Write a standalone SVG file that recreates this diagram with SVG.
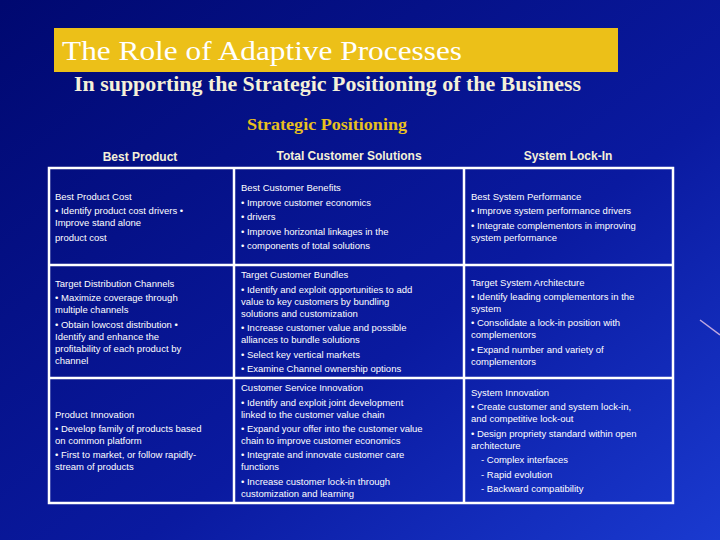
<svg xmlns="http://www.w3.org/2000/svg" width="720" height="540" viewBox="0 0 720 540">
<defs>
<linearGradient id="bg" x1="0" y1="0" x2="1" y2="1">
<stop offset="0" stop-color="#000870"/>
<stop offset="0.6" stop-color="#0a1aa0"/>
<stop offset="1" stop-color="#1a3ad0"/>
</linearGradient>
<style>
.t{font-family:"Liberation Sans",Arial,sans-serif;font-size:9.5px;fill:#ffffff}
.h{font-family:"Liberation Sans",Arial,sans-serif;font-size:12px;font-weight:bold;fill:#f4f0d8;text-anchor:middle}
.g{stroke:#ffffff;stroke-width:2.5;fill:none}
</style>
</defs>
<rect width="720" height="540" fill="url(#bg)"/>
<path d="M700 320 L720 335" stroke="#c0a8e0" stroke-width="1.5"/>
<g id="title">
<rect x="54" y="28" width="564" height="44" fill="#ecc018"/>
<text x="62" y="60" font-family="Liberation Serif,serif" font-size="28" fill="#ffffff" textLength="400" lengthAdjust="spacingAndGlyphs">The Role of Adaptive Processes</text>
</g>
<text x="74" y="91" font-family="Liberation Serif,serif" font-size="21" font-weight="bold" fill="#f4f0d8" textLength="507" lengthAdjust="spacingAndGlyphs">In supporting the Strategic Positioning of the Business</text>
<text x="247" y="130" font-family="Liberation Serif,serif" font-size="17" font-weight="bold" fill="#e8c020" textLength="160" lengthAdjust="spacingAndGlyphs">Strategic Positioning</text>
<text class="h" x="140" y="161">Best Product</text>
<text class="h" x="349" y="160">Total Customer Solutions</text>
<text class="h" x="568" y="160">System Lock-In</text>
<g id="grid">
<rect class="g" x="49" y="168" width="624" height="335"/>
<line class="g" x1="234" y1="168" x2="234" y2="503"/>
<line class="g" x1="464" y1="168" x2="464" y2="503"/>
<line class="g" x1="49" y1="265" x2="673" y2="265"/>
<line class="g" x1="49" y1="378" x2="673" y2="378"/>
</g>
<g id="c11"><text class="t" x="55" y="200">Best Product Cost</text><text class="t" x="55" y="214">• Identify product cost drivers •</text><text class="t" x="55" y="226">Improve stand alone</text><text class="t" x="55" y="241">product cost</text></g>
<g id="c21"><text class="t" x="55" y="287">Target Distribution Channels</text><text class="t" x="55" y="301">• Maximize coverage through</text><text class="t" x="55" y="313">multiple channels</text><text class="t" x="55" y="328">• Obtain lowcost distribution •</text><text class="t" x="55" y="340">Identify and enhance the</text><text class="t" x="55" y="352">profitability of each product by</text><text class="t" x="55" y="364">channel</text></g>
<g id="c31"><text class="t" x="55" y="418">Product Innovation</text><text class="t" x="55" y="432">• Develop family of products based</text><text class="t" x="55" y="444">on common platform</text><text class="t" x="55" y="458">• First to market, or follow rapidly-</text><text class="t" x="55" y="470">stream of products</text></g>
<g id="c12"><text class="t" x="241" y="191">Best Customer Benefits</text><text class="t" x="241" y="206">• Improve customer economics</text><text class="t" x="241" y="220">• drivers</text><text class="t" x="241" y="235">• Improve horizontal linkages in the</text><text class="t" x="241" y="249">• components of total solutions</text></g>
<g id="c22"><text class="t" x="241" y="278">Target Customer Bundles</text><text class="t" x="241" y="293">• Identify and exploit opportunities to add</text><text class="t" x="241" y="305">value to key customers by bundling</text><text class="t" x="241" y="317">solutions and customization</text><text class="t" x="241" y="331">• Increase customer value and possible</text><text class="t" x="241" y="343">alliances to bundle solutions</text><text class="t" x="241" y="358">• Select key vertical markets</text><text class="t" x="241" y="372">• Examine Channel ownership options</text></g>
<g id="c32"><text class="t" x="241" y="391">Customer Service Innovation</text><text class="t" x="241" y="406">• Identify and exploit joint development</text><text class="t" x="241" y="418">linked to the customer value chain</text><text class="t" x="241" y="432">• Expand your offer into the customer value</text><text class="t" x="241" y="444">chain to improve customer economics</text><text class="t" x="241" y="458">• Integrate and innovate customer care</text><text class="t" x="241" y="470">functions</text><text class="t" x="241" y="485">• Increase customer lock-in through</text><text class="t" x="241" y="497">customization and learning</text></g>
<g id="c13"><text class="t" x="471" y="200">Best System Performance</text><text class="t" x="471" y="214">• Improve system performance drivers</text><text class="t" x="471" y="229">• Integrate complementors in improving</text><text class="t" x="471" y="241">system performance</text></g>
<g id="c23"><text class="t" x="471" y="286">Target System Architecture</text><text class="t" x="471" y="300">• Identify leading complementors in the</text><text class="t" x="471" y="312">system</text><text class="t" x="471" y="326">• Consolidate a lock-in position with</text><text class="t" x="471" y="338">complementors</text><text class="t" x="471" y="353">• Expand number and variety of</text><text class="t" x="471" y="365">complementors</text></g>
<g id="c33"><text class="t" x="471" y="396">System Innovation</text><text class="t" x="471" y="410">• Create customer and system lock-in,</text><text class="t" x="471" y="422">and competitive lock-out</text><text class="t" x="471" y="437">• Design propriety standard within open</text><text class="t" x="471" y="449">architecture</text><text class="t" x="481" y="463">- Complex interfaces</text><text class="t" x="481" y="478">- Rapid evolution</text><text class="t" x="481" y="492">- Backward compatibility</text></g>
</svg>
